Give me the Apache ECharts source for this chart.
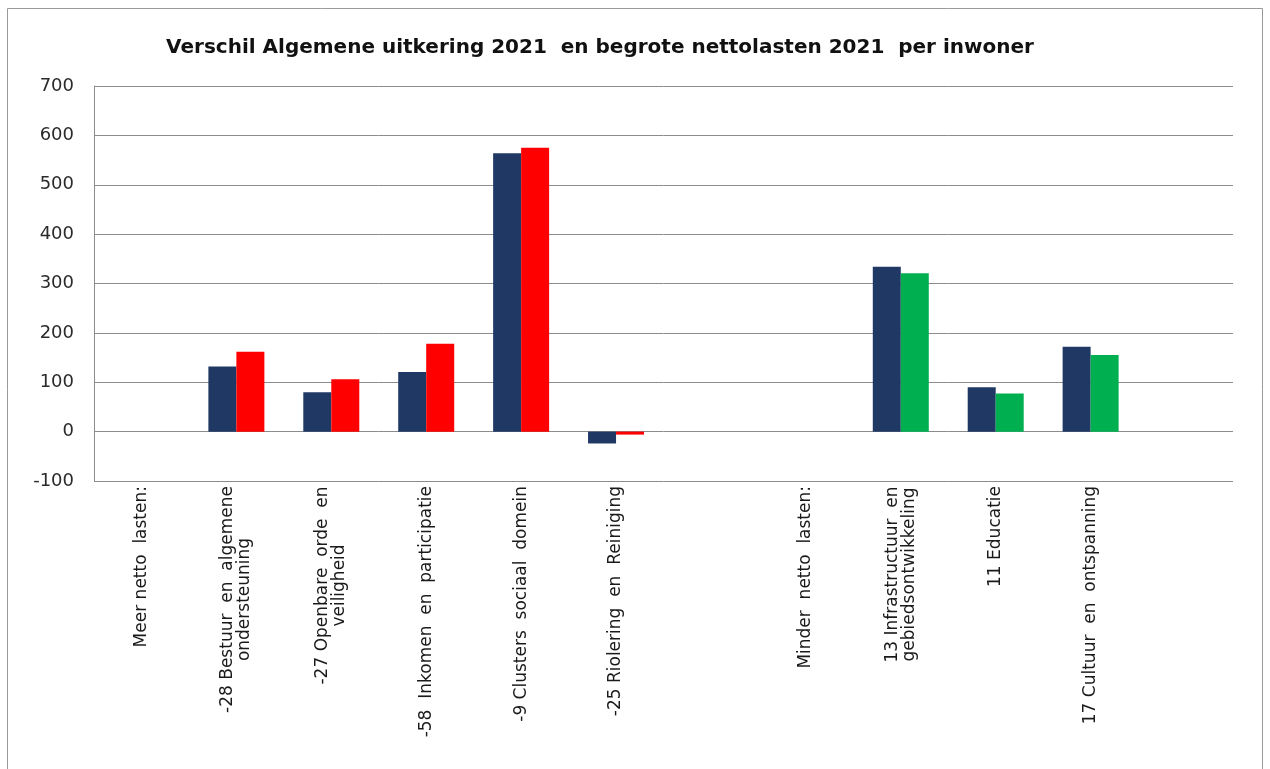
<!DOCTYPE html>
<html>
<head>
    <meta charset="utf-8">
    <title>Verschil Algemene uitkering 2021</title>
    <script src="https://cdn.jsdelivr.net/npm/echarts@6/dist/echarts.min.js"></script>
    <style>
        html, body { margin: 0; padding: 0; background: #fff; }
        #main { width: 1270px; height: 769px; }
    </style>
</head>
<body>
<div id="main"></div>
<script>
    // categorieen (leeg = tussenruimte)
    var categories = [
        'Meer netto  lasten:',
        '-28 Bestuur  en  algemene\nondersteuning',
        '-27 Openbare  orde  en\nveiligheid',
        '-58  Inkomen  en  participatie',
        '-9 Clusters  sociaal  domein',
        '-25 Riolering  en  Reiniging',
        '',
        'Minder  netto  lasten:',
        '13 Infrastructuur  en\ngebiedsontwikkeling',
        '11 Educatie',
        '17 Cultuur  en  ontspanning',
        ''
    ];
    var eersteReeks = [null, 132, 80, 121, 564, -24, null, null, 334, 90, 172, null];
    var tweedeReeks = [null, 162, 106, 178, 575, -6, null, null, 321, 77, 155, null];
    var yTicks = { min: -100, max: 700, interval: 100 };

    var labelSize = 17;
    var ctx = document.createElement('canvas').getContext('2d');
    ctx.font = labelSize + 'px "DejaVu Sans"';

    function maxWidth(v) {
        var w = 0;
        v.split('\n').forEach(function (l) { w = Math.max(w, ctx.measureText(l).width); });
        return Math.ceil(w);
    }

    // twee regels gecentreerd onder elkaar
    var richStyles = {};
    categories.forEach(function (v) {
        if (v.indexOf('\n') < 0) return;
        var w = maxWidth(v);
        richStyles['c' + w] = { width: w, align: 'center', fontSize: labelSize, fontFamily: 'DejaVu Sans', color: '#1a1a1a', lineHeight: 17 };
    });

    var myChart = echarts.init(document.getElementById('main'), null, { renderer: 'canvas' });
    var option = {
        animation: false,
        title: {
            text: 'Verschil Algemene uitkering 2021  en begrote nettolasten 2021  per inwoner',
            left: 595,
            top: 33,
            textAlign: 'center',
            textStyle: { fontFamily: 'DejaVu Sans', fontWeight: 'bold', fontSize: 20, color: '#111' }
        },
        graphic: [{
            type: 'rect',
            shape: { x: 7.5, y: 8.5, width: 1255, height: 780 },
            style: { fill: 'none', stroke: '#9a9a9a', lineWidth: 1 },
            silent: true
        }],
        grid: { left: 94, right: 37, top: 86, bottom: 288, containLabel: false },
        xAxis: {
            type: 'category',
            data: categories,
            axisLine: { show: false },
            axisTick: { show: false },
            axisLabel: {
                interval: 0,
                rotate: 90,
                margin: 5,
                fontSize: labelSize,
                lineHeight: 17,
                fontFamily: 'DejaVu Sans',
                color: '#1a1a1a',
                formatter: function (v) {
                    if (v.indexOf('\n') < 0) return v;
                    var key = 'c' + maxWidth(v);
                    return v.split('\n').map(function (l) { return '{' + key + '|' + l + '}'; }).join('\n');
                },
                rich: richStyles
            }
        },
        yAxis: {
            type: 'value',
            min: yTicks.min,
            max: yTicks.max,
            interval: yTicks.interval,
            axisLine: { show: true, lineStyle: { color: '#8c8c8c', width: 1 } },
            axisTick: { show: false },
            axisLabel: { margin: 20, fontSize: 18, fontFamily: 'DejaVu Sans', color: '#2a2a2a' },
            splitLine: { lineStyle: { color: '#8c8c8c', width: 1 } }
        },
        series: [{
            type: 'bar',
            data: eersteReeks,
            barWidth: 28,
            barGap: '0%',
            itemStyle: { color: '#1f3864' }
        }, {
            type: 'bar',
            data: tweedeReeks,
            barWidth: 28,
            barGap: '0%',
            itemStyle: {
                color: function (p) { return p.dataIndex < 6 ? '#ff0000' : '#00b050'; }
            }
        }]
    };
    myChart.setOption(option);
</script>
</body>
</html>
